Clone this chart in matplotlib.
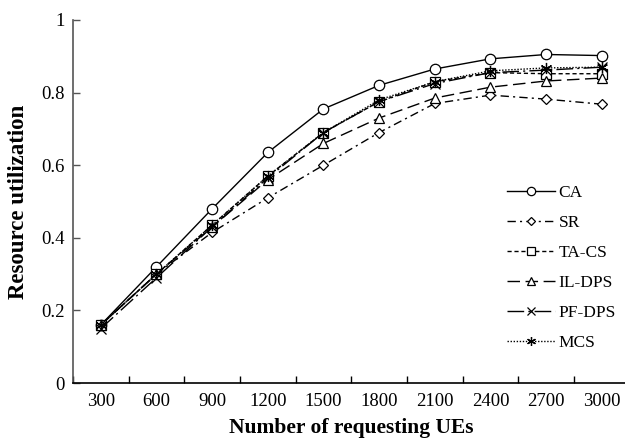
import matplotlib
matplotlib.use("Agg")
import matplotlib.pyplot as plt
import numpy as np

categories = ["300", "600", "900", "1200", "1500", "1800", "2100", "2400", "2700", "3000"]
ca = [0.16, 0.32, 0.48, 0.635, 0.755, 0.82, 0.865, 0.893, 0.905, 0.902]
sr = [0.16, 0.30, 0.415, 0.51, 0.60, 0.69, 0.77, 0.793, 0.782, 0.768]
ta_cs = [0.16, 0.30, 0.435, 0.57, 0.69, 0.775, 0.83, 0.855, 0.852, 0.852]
il_dps = [0.16, 0.30, 0.43, 0.56, 0.66, 0.73, 0.785, 0.815, 0.832, 0.84]
pf_dps = [0.15, 0.29, 0.43, 0.565, 0.69, 0.775, 0.825, 0.855, 0.862, 0.87]
mcs = [0.16, 0.30, 0.435, 0.57, 0.69, 0.78, 0.83, 0.86, 0.868, 0.87]

plt.rcParams['font.family'] = ['Liberation Serif', 'DejaVu Serif']

fig = plt.figure(figsize=(6.25, 4.42), dpi=100)
ax = fig.add_axes([73/625, 1-383/442, (629.6-73)/625, (383-20)/442])

x = np.arange(len(categories))
common = dict(color='black', lw=1.0, mfc='white', mec='black', mew=0.9)
ax.plot(x, ca, marker='o', ms=7.5, ls='-', label='CA', **common)
ax.plot(x, sr, marker='D', ms=5.5, ls=(0, (6, 3, 1.5, 3)), label='SR', **common)
ax.plot(x, ta_cs, marker='s', ms=7, ls=(0, (3, 2)), label='TA-CS', **common)
ax.plot(x, il_dps, marker='^', ms=7.5, ls=(0, (9, 4)), label='IL-DPS', **common)
ax.plot(x, pf_dps, marker='x', ms=7.5, ls=(0, (12, 3, 1.5, 3)), label='PF-DPS', **common)
ax.plot(x, mcs, marker=(6, 2, 0), ms=8, ls=(0, (1, 1.2)), label='MCS', **common)

ax.set_xlim(-0.5, len(categories) - 0.5)
ax.set_ylim(0, 1)
ax.set_yticks([0, 0.2, 0.4, 0.6, 0.8, 1.0])
ax.set_yticklabels(['0', '0.2', '0.4', '0.6', '0.8', '1'])
ax.set_xticks(np.arange(len(categories) + 1) - 0.5)
ax.set_xticklabels([])
ax.set_xticks(x, minor=True)
ax.set_xticklabels(categories, minor=True)
ax.tick_params(axis='x', which='minor', length=0, labelsize=13.5, pad=7)
ax.tick_params(axis='x', which='major', direction='in', length=5, width=1)
ax.tick_params(axis='y', direction='in', length=5, width=1, labelsize=13.5, pad=6,
               color='#555555')

for s in ['top', 'right']:
    ax.spines[s].set_visible(False)
ax.spines['left'].set_color('#555555')
ax.spines['bottom'].set_color('black')
ax.spines['left'].set_linewidth(1.2)
ax.spines['bottom'].set_linewidth(1.2)

ax.set_xlabel('Number of requesting UEs', fontsize=15.5, fontweight='bold', labelpad=6)
ax.set_ylabel('Resource utilization', fontsize=16.5, fontweight='bold', labelpad=9)

ax.legend(loc='center left', bbox_to_anchor=(0.78, 0.317), frameon=False, fontsize=12.5,
          handlelength=2.76, handletextpad=0.2, labelspacing=0.79, borderaxespad=0,
          borderpad=0, markerscale=0.8)

fig.savefig('out.png', dpi=100)
